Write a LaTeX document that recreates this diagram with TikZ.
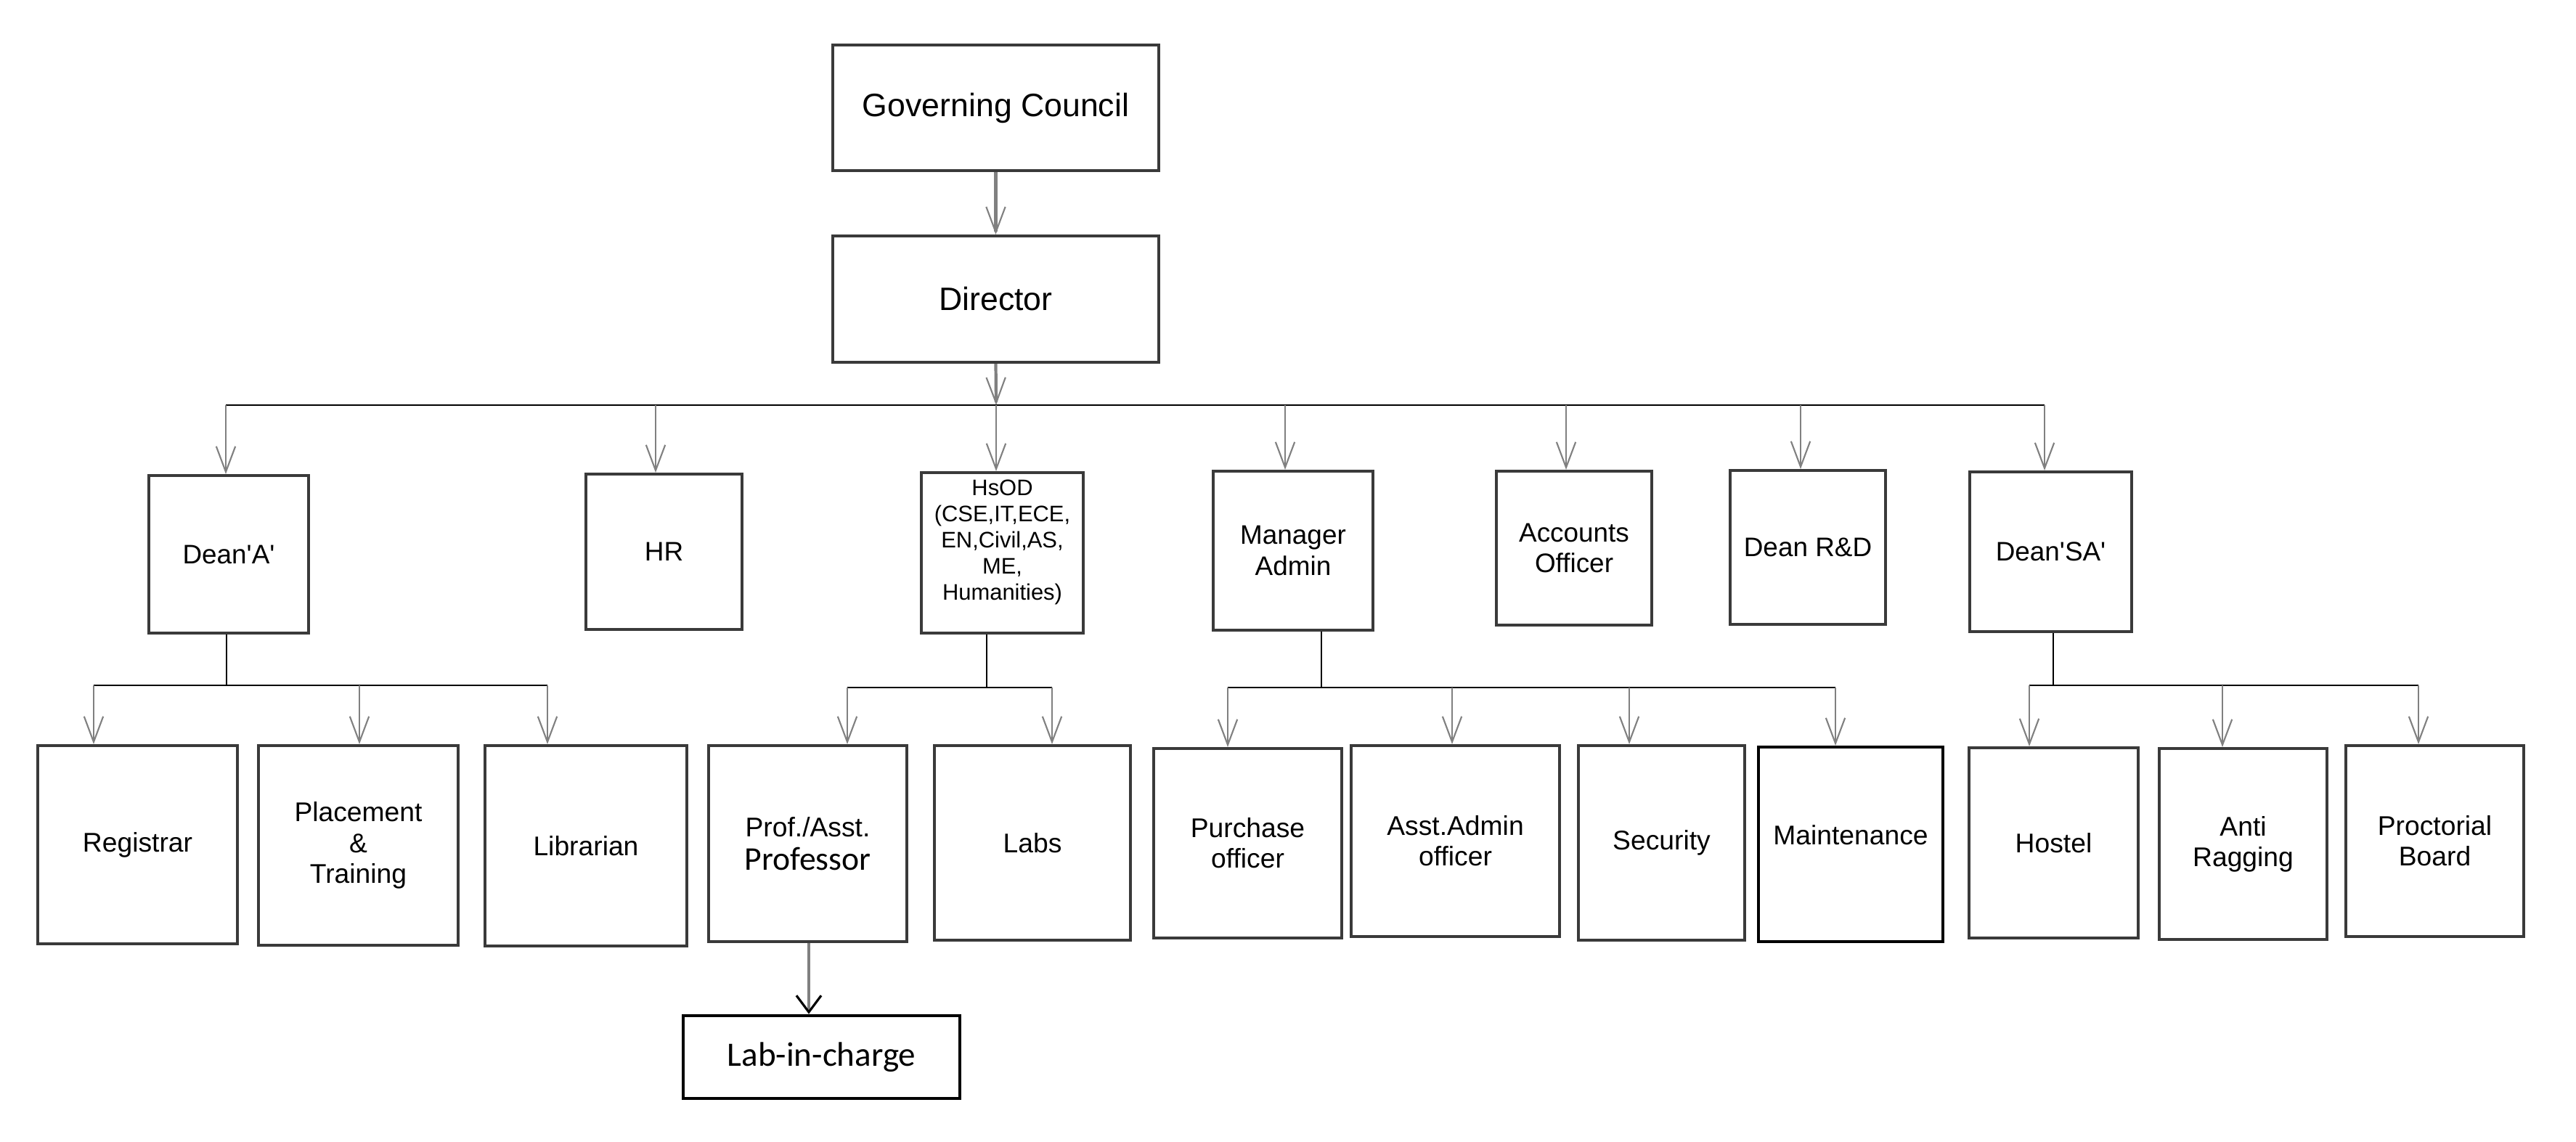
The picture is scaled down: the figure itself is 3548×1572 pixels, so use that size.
\documentclass[tikz,border=0pt]{standalone}
\usepackage{fontspec}
\setmainfont{Liberation Sans}
\newfontfamily\carl{Carlito}
\usetikzlibrary{arrows.meta}
\definecolor{boxgray}{HTML}{3A3A3A}
\definecolor{linegray}{HTML}{808080}
\tikzset{
  box/.style={draw=boxgray, line width=1.15pt, rectangle, inner sep=0pt, align=center, fill=white},
  sz/.style 2 args={minimum width=#1mm, minimum height=#2mm},
  topbox/.style={box, font=\fontsize{12.7}{15}\selectfont},
  lvltwo/.style={box, font=\fontsize{10.5}{12}\selectfont},
  lvlthree/.style={box, font=\fontsize{10.6}{12}\selectfont},
  tip/.style={-{Straight Barb[length=10pt,width=7.5pt,line width=0.6pt]}},
  conn/.style={draw=linegray, line width=1.2pt, tip},
  drop/.style={draw=linegray, line width=0.8pt, tip},
  busline/.style={draw=black, line width=0.6pt},
  stem/.style={draw=black, line width=0.45pt}
}
\begin{document}
\begin{tikzpicture}[x=0.1mm,y=-0.1mm]
\useasboundingbox (0,0) rectangle (3548,1572);
\fill[white] (0,0) rectangle (3548,1572);

% top
\node[topbox, sz={44.9}{17.3}] (gc) at (1371.5,148.5) {Governing Council};
\node[topbox, sz={44.9}{17.4}] (dir) at (1371.5,412) {Director};

% level 2
\node[lvltwo, sz={22}{21.7}] (deanA) at (315,763.5) {Dean\textquotesingle A\textquotesingle};
\node[lvltwo, sz={21.5}{21.4}] (hr) at (914.5,760) {HR};
\node[box, sz={22.3}{22.1}, font=\fontsize{8.8}{10.2}\selectfont] (hsod) at (1380.5,761.5)
  {\raisebox{4pt}[\height][\depth]{\begin{tabular}{@{}c@{}}HsOD\\(CSE,IT,ECE,\\EN,Civil,AS,\\ME,\\Humanities)\end{tabular}}};
\node[lvltwo, sz={22}{21.9}] (mgr) at (1781,758.5) {Manager\\Admin};
\node[lvltwo, sz={21.4}{21.2}] (acc) at (2168,755) {Accounts\\Officer};
\node[lvltwo, sz={21.4}{21.2}] (rd) at (2490,754) {Dean R\&D};
\node[lvltwo, sz={22.3}{22}] (deanSA) at (2824.5,760) {Dean\textquotesingle SA\textquotesingle};

% level 3
\node[lvlthree, sz={27.5}{27.3}] (reg) at (189.5,1163.5) {Registrar};
\node[lvlthree, sz={27.5}{27.5}] (place) at (493.5,1164.5) {Placement\\\&\\Training};
\node[lvlthree, sz={27.8}{27.6}] (lib) at (807,1165) {Librarian};
\node[lvlthree, sz={27.3}{27}] (prof) at (1112.5,1162) {Prof./Asst.\\[1pt]{\carl\fontsize{13}{13}\selectfont Professor}};
\node[lvlthree, sz={27}{26.8}] (labs) at (1422,1161) {Labs};
\node[lvlthree, sz={25.9}{26.1}] (purch) at (1718.5,1161.5) {Purchase\\officer};
\node[lvlthree, sz={28.7}{26.3}] (asst) at (2004.5,1158.5) {Asst.Admin\\officer};
\node[lvlthree, sz={22.9}{26.8}] (sec) at (2288.5,1161) {Security};
\node[lvlthree, sz={25.4}{26.8}, draw=black] (maint) at (2549,1163) {\raisebox{3.7pt}[\height][\depth]{Maintenance}};
\node[lvlthree, sz={23.3}{26.2}] (hostel) at (2828.5,1161) {Hostel};
\node[lvlthree, sz={23.1}{26.3}] (anti) at (3089.5,1162.5) {Anti\\Ragging};
\node[lvlthree, sz={24.5}{26.3}] (proct) at (3353.5,1158.5) {Proctorial\\Board};

% level 4
\node[box, draw=black, line width=1.3pt, sz={38.1}{11.4}, font=\carl\fontsize{13.4}{15}\selectfont] (lab) at (1131.5,1456) {Lab-in-charge};

% top connectors
\draw[conn] (gc.south) -- (dir.north);
\coordinate (bc) at (1372,558);
\draw[conn] (dir.south) -- (bc);
\coordinate (busL) at (311,558);
\coordinate (busR) at (2816,558);
\draw[busline] (busL) -- (busR);
\foreach \x/\n in {311/deanA, 903/hr, 1372/hsod, 1770/mgr, 2157/acc, 2480/rd, 2816/deanSA}{
  \coordinate (d\n) at (\x,558);
  \draw[drop] (d\n) -- (d\n |- \n.north);
}

% Dean A branch
\coordinate (sA) at (312,944);
\draw[stem] (deanA.south -| sA) -- (sA);
\draw[busline] (129,944) coordinate (sAL) -- (754,944) coordinate (sAR);
\foreach \x/\n in {129/reg, 495/place, 754/lib}{
  \coordinate (e\n) at (\x,944);
  \draw[drop] (e\n) -- (e\n |- \n.north);
}

% HsOD branch
\coordinate (sH) at (1359,947);
\draw[stem] (hsod.south -| sH) -- (sH);
\draw[busline] (1167,947) coordinate (sHL) -- (1449,947) coordinate (sHR);
\foreach \x/\n in {1167/prof, 1449/labs}{
  \coordinate (e\n) at (\x,947);
  \draw[drop] (e\n) -- (e\n |- \n.north);
}

% Manager branch
\coordinate (sM) at (1820,947);
\draw[stem] (mgr.south -| sM) -- (sM);
\draw[busline] (1691,947) coordinate (sML) -- (2528,947) coordinate (sMR);
\foreach \x/\n in {1691/purch, 2000/asst, 2244/sec, 2528/maint}{
  \coordinate (e\n) at (\x,947);
  \draw[drop] (e\n) -- (e\n |- \n.north);
}

% Dean SA branch
\coordinate (sS) at (2828,944);
\draw[stem] (deanSA.south -| sS) -- (sS);
\draw[busline] (2795,944) coordinate (sSL) -- (3331,944) coordinate (sSR);
\foreach \x/\n in {2795/hostel, 3061/anti, 3331/proct}{
  \coordinate (e\n) at (\x,944);
  \draw[drop] (e\n) -- (e\n |- \n.north);
}

% Prof -> Lab-in-charge
\coordinate (pl) at (1114,1297);
\draw[draw=linegray, line width=1.2pt, -{Straight Barb[length=6.5pt,width=9.7pt,line width=0.9pt,color=black]}] (prof.south -| pl) -- (pl |- lab.north);
\end{tikzpicture}
\end{document}
